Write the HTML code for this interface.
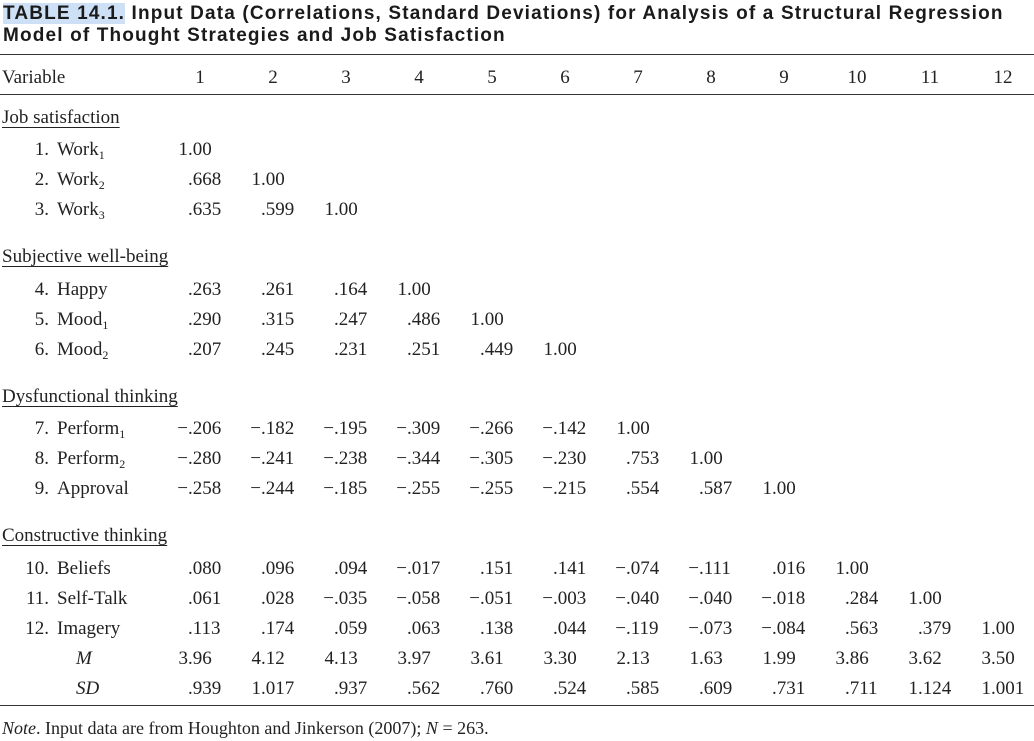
<!DOCTYPE html>
<html><head><meta charset="utf-8">
<style>
body{margin:0;background:#fff;}
#t{position:relative;width:1034px;height:741px;overflow:hidden;font-family:"Liberation Serif",serif;color:#222;font-size:19px;}
.a{position:absolute;white-space:nowrap;line-height:22px;}
.title{font-family:"Liberation Sans",sans-serif;font-weight:bold;font-size:19px;letter-spacing:1.15px;left:3px;color:#1a1a1a;line-height:22px;}
.hl{background:#cde0f6;}
.rule{position:absolute;left:0;width:1034px;height:1px;background:#333;}
.sec{text-decoration:underline;text-underline-offset:4px;text-decoration-thickness:1px;}
sub{font-size:12px;vertical-align:-4px;line-height:0;}
</style></head><body>
<div id="t">
<div class="a title" style="top:3px"><span class="hl">TABLE 14.1.</span> Input Data (Correlations, Standard Deviations) for Analysis of a Structural Regression</div>
<div class="a title" style="top:25px">Model of Thought Strategies and Job Satisfaction</div>
<div class="rule" style="top:54px"></div>
<div class="rule" style="top:94px"></div>
<div class="rule" style="top:705px"></div>
<div class="a" style="left:2px;top:67px">Variable</div>
<div class="a" style="left:2px;top:717px;font-size:18px"><i>Note</i>. Input data are from Houghton and Jinkerson (2007); <i>N</i> = 263.</div>
</div>
<script>
const sections=["Job satisfaction","Subjective well-being","Dysfunctional thinking","Constructive thinking"];
const sectionY=[107,246,386,525];
const rowNums=["1.","2.","3.","4.","5.","6.","7.","8.","9.","10.","11.","12."];
const rowNames=["Work","Work","Work","Happy","Mood","Mood","Perform","Perform","Approval","Beliefs","Self-Talk","Imagery"];
const rowSubs=["1","2","3","","1","2","1","2","","","",""];
const rowY=[139,169,199,279,309,339,418,448,478,558,588,618];
const corr=[
["1.00"],
[".668","1.00"],
[".635",".599","1.00"],
[".263",".261",".164","1.00"],
[".290",".315",".247",".486","1.00"],
[".207",".245",".231",".251",".449","1.00"],
["−.206","−.182","−.195","−.309","−.266","−.142","1.00"],
["−.280","−.241","−.238","−.344","−.305","−.230",".753","1.00"],
["−.258","−.244","−.185","−.255","−.255","−.215",".554",".587","1.00"],
[".080",".096",".094","−.017",".151",".141","−.074","−.111",".016","1.00"],
[".061",".028","−.035","−.058","−.051","−.003","−.040","−.040","−.018",".284","1.00"],
[".113",".174",".059",".063",".138",".044","−.119","−.073","−.084",".563",".379","1.00"]];
const means=["3.96","4.12","4.13","3.97","3.61","3.30","2.13","1.63","1.99","3.86","3.62","3.50"];
const sds=[".939","1.017",".937",".562",".760",".524",".585",".609",".731",".711","1.124","1.001"];
const colLabels=["1","2","3","4","5","6","7","8","9","10","11","12"];
const t=document.getElementById('t');
function dotX(c){return 188+73*c;}
function mk(txt,x,y,cls){const d=document.createElement('div');d.className='a '+(cls||'');d.style.left=x+'px';d.style.top=y+'px';d.innerHTML=txt;t.appendChild(d);return d;}
function cell(v,c,y,name){
  const i=v.indexOf('.');const ip=v.slice(0,i),fp=v.slice(i);
  const d=document.createElement('div');d.className='a';d.style.left=(dotX(c)-60)+'px';d.style.top=y+'px';
  d.innerHTML='<span style="display:inline-block;width:60px;text-align:right">'+ip+'</span>'+fp;
  
  
  t.appendChild(d);
}
colLabels.forEach((l,c)=>{const d=mk(l,dotX(c)+12-40,67);d.style.width='80px';d.style.textAlign='center';
  
  });
sections.forEach((s,i)=>{const d=mk(s,2,sectionY[i],'sec');
  
  });
rowNames.forEach((n,r)=>{
  const num=mk(rowNums[r],0,rowY[r]);num.style.width='49px';num.style.textAlign='right';
  
  
  const nm=mk(n+(rowSubs[r]?'<sub>'+rowSubs[r]+'</sub>':''),57,rowY[r]);
  
  
  corr[r].forEach((v,c)=>cell(v,c,rowY[r],'cell-r'+(r+1)+'-c'+(c+1)));
});
const ml=mk('<i>M</i>',76,648);
const sl=mk('<i>SD</i>',76,678);
means.forEach((v,c)=>cell(v,c,648,'mean-'+(c+1)));
sds.forEach((v,c)=>cell(v,c,678,'sd-'+(c+1)));
</script>
</body></html>
